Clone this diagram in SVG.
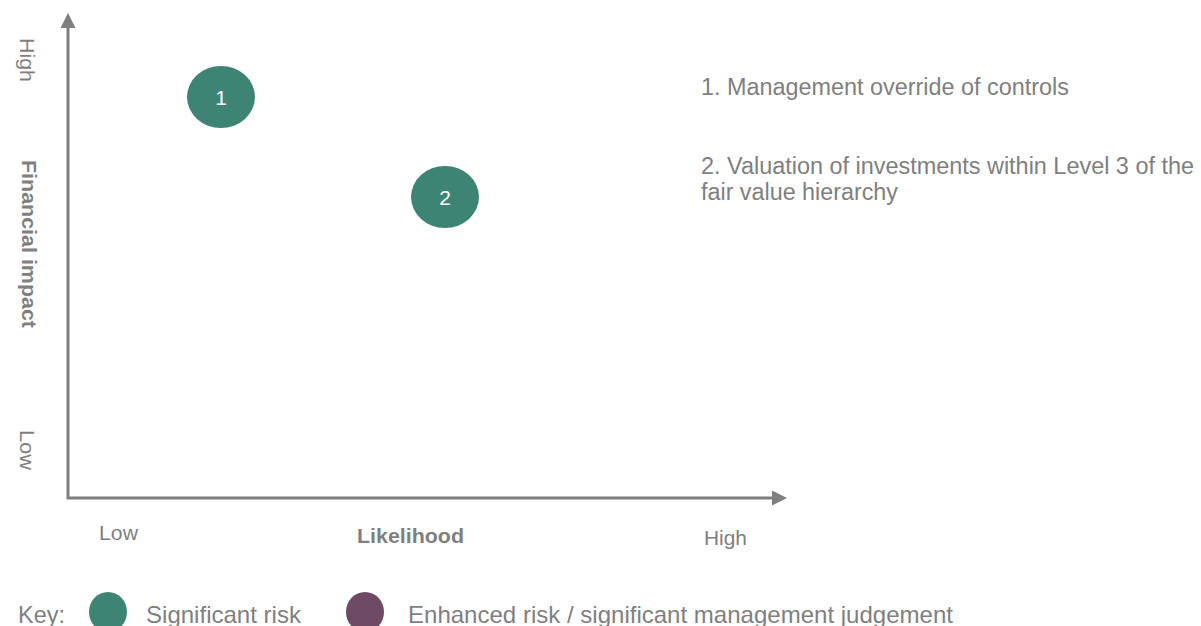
<svg xmlns="http://www.w3.org/2000/svg" width="1201" height="626" viewBox="0 0 1201 626">
<style>
.t{font-family:"Liberation Sans",Arial,sans-serif;fill:#7f7f7f}
.b{font-weight:bold}
.n{font-family:"Liberation Sans",Arial,sans-serif;fill:#ffffff;font-size:21px;text-anchor:middle}
.ax{stroke:#7f7f7f;stroke-width:3;fill:none}
.sig{fill:#3d8475}
.enh{fill:#6e4a64}
</style>
<defs>
<marker id="arr" viewBox="0 0 10 10" refX="0" refY="5" markerWidth="5" markerHeight="5" markerUnits="strokeWidth" orient="auto">
<path d="M0,0 L10,5 L0,10 Z" fill="#7f7f7f"/>
</marker>
</defs>
<g id="connectors">
<line class="ax" x1="68" y1="499" x2="68" y2="28" marker-end="url(#arr)"/>
<line class="ax" x1="67" y1="498" x2="772" y2="498" marker-end="url(#arr)"/>
</g>
<g id="axis-labels">
<text class="t" font-size="21" transform="translate(20,38) rotate(90)" textLength="44" lengthAdjust="spacingAndGlyphs">High</text>
<text class="t b" font-size="21" transform="translate(22,160) rotate(90)" textLength="168" lengthAdjust="spacingAndGlyphs">Financial impact</text>
<text class="t" font-size="21" transform="translate(20,430) rotate(90)" textLength="40" lengthAdjust="spacingAndGlyphs">Low</text>
<text class="t" font-size="21" x="99" y="540" textLength="39" lengthAdjust="spacingAndGlyphs">Low</text>
<text class="t b" font-size="21" x="357" y="543" textLength="107" lengthAdjust="spacingAndGlyphs">Likelihood</text>
<text class="t" font-size="21" x="704" y="545" textLength="43" lengthAdjust="spacingAndGlyphs">High</text>
</g>
<g id="node1">
<ellipse class="sig" cx="221" cy="97" rx="34" ry="31"/>
<text class="n" x="221" y="105">1</text>
</g>
<g id="node2">
<ellipse class="sig" cx="445" cy="197" rx="34" ry="31"/>
<text class="n" x="445" y="205">2</text>
</g>
<g id="descriptions">
<text class="t" font-size="23" x="701" y="95" textLength="368" lengthAdjust="spacingAndGlyphs">1. Management override of controls</text>
<text class="t" font-size="23" x="701" y="174" textLength="493" lengthAdjust="spacingAndGlyphs">2. Valuation of investments within Level 3 of the</text>
<text class="t" font-size="23" x="701" y="200" textLength="197" lengthAdjust="spacingAndGlyphs">fair value hierarchy</text>
</g>
<g id="key">
<text class="t" font-size="24" x="18" y="623" textLength="47" lengthAdjust="spacingAndGlyphs">Key:</text>
<ellipse class="sig" cx="108" cy="612" rx="19" ry="20"/>
<text class="t" font-size="24" x="146" y="623" textLength="155" lengthAdjust="spacingAndGlyphs">Significant risk</text>
<ellipse class="enh" cx="365" cy="612" rx="19" ry="20"/>
<text class="t" font-size="24" x="408" y="623" textLength="545" lengthAdjust="spacingAndGlyphs">Enhanced risk / significant management judgement</text>
</g>
</svg>
